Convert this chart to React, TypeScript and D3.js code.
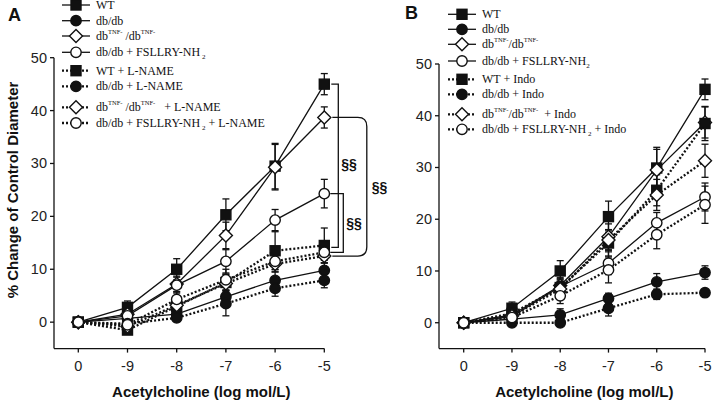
import React from 'react';
import * as d3 from 'd3';

// ---------- data ----------
const doses = ['0', '-9', '-8', '-7', '-6', '-5'];
const yTicks = [0, 10, 20, 30, 40, 50];

// Panel A
const wtA = [0, 2.8, 10, 20.3, 29.5, 45];
const wtAErr = [0, 1.2, 2, 3, 4.3, 2];
const dbA = [0, 0.7, 1.5, 4.8, 7.9, 9.8];
const dbAErr = [0, 0.6, 1, 1.3, 1.6, 1.4];
const tnfA = [0, 1.5, 7.2, 16.4, 29.3, 38.7];
const tnfAErr = [0, 1, 1.5, 2.5, 4.3, 2];
const fsA = [0, 1.2, 7, 11.5, 19.3, 24.3];
const fsAErr = [0, 1, 1.5, 2.2, 2, 2.7];
const wtLA = [0, -1.5, 3, 7.5, 13.5, 14.5];
const wtLAErr = [0, 0.8, 1, 1.5, 3.6, 3.3];
const dbLA = [0, -0.3, 0.8, 3.5, 6.4, 7.9];
const dbLAErr = [0, 0.5, 0.7, 2.3, 1.5, 1.4];
const tnfLA = [0, -0.8, 3.2, 7.3, 11, 12.5];
const tnfLAErr = [0, 1, 1.2, 1.8, 1.5, 1.3];
const fsLA = [0, -0.5, 4.3, 8, 11.5, 13.2];
const fsLAErr = [0, 1, 1.5, 2, 1.5, 1.5];

// Panel B
const wtB = [0, 2.8, 10, 20.5, 29.9, 45.1];
const wtBErr = [0, 1.2, 2, 3, 4, 2];
const dbB = [0, 0.7, 1.5, 4.7, 7.9, 9.7];
const dbBErr = [0, 0.5, 1.2, 1, 1.6, 1.3];
const tnfB = [0, 1.5, 7.2, 16.6, 29.5, 38.7];
const tnfBErr = [0, 1, 1.5, 2.5, 4, 3];
const fsB = [0, 1.2, 7, 11.5, 19.3, 24.3];
const fsBErr = [0, 1, 1.5, 2.2, 2, 2.7];
const wtIB = [0, 1.8, 6.8, 15.4, 25.6, 38.5];
const wtIBErr = [0, 1, 1.5, 2.5, 3, 3.3];
const dbIB = [0, 0, 0, 2.8, 5.5, 5.8];
const dbIBErr = [0, 0.5, 0.5, 1.5, 1, 0.6];
const tnfIB = [0, 1.3, 6.5, 16, 24.7, 31.3];
const tnfIBErr = [0, 1, 1.5, 2, 3, 3.2];
const fsIB = [0, 1, 5.2, 10.2, 17, 22.8];
const fsIBErr = [0, 1, 1.5, 2.5, 2.7, 3.6];

type Seg = { t: string; sup?: boolean; sub?: boolean };
const lblWT: Seg[] = [{ t: 'WT' }];
const lblDB: Seg[] = [{ t: 'db/db' }];
const lblTNF: Seg[] = [{ t: 'db' }, { t: 'TNF-', sup: true }, { t: ' /db' }, { t: 'TNF-', sup: true }];
const lblTNFB: Seg[] = [{ t: 'db' }, { t: 'TNF-', sup: true }, { t: '/db' }, { t: 'TNF-', sup: true }];
const lblFS: Seg[] = [{ t: 'db/db + FSLLRY-NH' }, { t: ' 2', sub: true }];
const lblFSB: Seg[] = [{ t: 'db/db + FSLLRY-NH' }, { t: '2', sub: true }];
const lblWTL: Seg[] = [{ t: 'WT + L-NAME' }];
const lblDBL: Seg[] = [{ t: 'db/db + L-NAME' }];
const lblTNFL: Seg[] = [{ t: 'db' }, { t: 'TNF-', sup: true }, { t: ' /db' }, { t: 'TNF-', sup: true }, { t: '   + L-NAME' }];
const lblFSL: Seg[] = [{ t: 'db/db + FSLLRY-NH' }, { t: ' 2', sub: true }, { t: ' + L-NAME' }];
const lblWTI: Seg[] = [{ t: 'WT + Indo' }];
const lblDBI: Seg[] = [{ t: 'db/db + Indo' }];
const lblTNFI: Seg[] = [{ t: 'db' }, { t: 'TNF-', sup: true }, { t: '/db' }, { t: 'TNF-', sup: true }, { t: '  + Indo' }];
const lblFSI: Seg[] = [{ t: 'db/db + FSLLRY-NH' }, { t: ' 2', sub: true }, { t: ' + Indo' }];

type Series = {
  values: number[];
  err: number[];
  shape: 'square' | 'circle' | 'diamond';
  filled: boolean;
  dotted: boolean;
  label: Seg[];
};

const seriesA: Series[] = [
  { values: wtA, err: wtAErr, shape: 'square', filled: true, dotted: false, label: lblWT },
  { values: dbA, err: dbAErr, shape: 'circle', filled: true, dotted: false, label: lblDB },
  { values: tnfA, err: tnfAErr, shape: 'diamond', filled: false, dotted: false, label: lblTNF },
  { values: fsA, err: fsAErr, shape: 'circle', filled: false, dotted: false, label: lblFS },
  { values: wtLA, err: wtLAErr, shape: 'square', filled: true, dotted: true, label: lblWTL },
  { values: dbLA, err: dbLAErr, shape: 'circle', filled: true, dotted: true, label: lblDBL },
  { values: tnfLA, err: tnfLAErr, shape: 'diamond', filled: false, dotted: true, label: lblTNFL },
  { values: fsLA, err: fsLAErr, shape: 'circle', filled: false, dotted: true, label: lblFSL },
];

const seriesB: Series[] = [
  { values: wtB, err: wtBErr, shape: 'square', filled: true, dotted: false, label: lblWT },
  { values: dbB, err: dbBErr, shape: 'circle', filled: true, dotted: false, label: lblDB },
  { values: tnfB, err: tnfBErr, shape: 'diamond', filled: false, dotted: false, label: lblTNFB },
  { values: fsB, err: fsBErr, shape: 'circle', filled: false, dotted: false, label: lblFSB },
  { values: wtIB, err: wtIBErr, shape: 'square', filled: true, dotted: true, label: lblWTI },
  { values: dbIB, err: dbIBErr, shape: 'circle', filled: true, dotted: true, label: lblDBI },
  { values: tnfIB, err: tnfIBErr, shape: 'diamond', filled: false, dotted: true, label: lblTNFI },
  { values: fsIB, err: fsIBErr, shape: 'circle', filled: false, dotted: true, label: lblFSI },
];

// ---------- drawing ----------
const SANS = '"Liberation Sans", Arial, Helvetica, sans-serif';
const SERIF = '"Liberation Serif", "Times New Roman", serif';

function Marker({ shape, filled, cx, cy }: { shape: string; filled: boolean; cx: number; cy: number }) {
  const fill = filled ? '#111' : '#fff';
  const sw = 1.4;
  if (shape === 'square') {
    const s = 10;
    return <rect x={cx - s / 2} y={cy - s / 2} width={s} height={s} fill={fill} stroke="#111" strokeWidth={sw} />;
  }
  if (shape === 'circle') {
    return <circle cx={cx} cy={cy} r={5.2} fill={fill} stroke="#111" strokeWidth={sw} />;
  }
  const h = 6.5;
  return (
    <path
      d={`M${cx},${cy - h}L${cx + h},${cy}L${cx},${cy + h}L${cx - h},${cy}Z`}
      fill={fill}
      stroke="#111"
      strokeWidth={sw}
    />
  );
}

function Label({ segs, x, y }: { segs: Seg[]; x: number; y: number }) {
  return (
    <text x={x} y={y} fontFamily={SERIF} fontSize={12} fill="#111" style={{ whiteSpace: 'pre' }}>
      {segs.map((s, i) => {
        if (s.sup)
          return (
            <tspan key={i} fontSize={6.5} baselineShift="6">
              {s.t}
            </tspan>
          );
        if (s.sub)
          return (
            <tspan key={i} fontSize={7} baselineShift="-3">
              {s.t}
            </tspan>
          );
        return <tspan key={i}>{s.t}</tspan>;
      })}
    </text>
  );
}

type PanelProps = {
  series: Series[];
  axisX: number;
  xRange: [number, number];
  yRange: [number, number];
  legendX: number;
  legendRows: number[];
  yTitle: boolean;
  brackets: boolean;
};

function Panel({ series, axisX, xRange, yRange, legendX, legendRows, yTitle, brackets }: PanelProps) {
  const x = d3.scalePoint<string>().domain(doses).range(xRange);
  const y = d3.scaleLinear().domain([-5, 50]).range(yRange);
  const line = d3
    .line<number>()
    .x((_, i) => x(doses[i]) as number)
    .y((v) => y(v));
  const yBottom = y(-5);
  const xEnd = x(doses[doses.length - 1]) as number;
  const xStart = x(doses[0]) as number;
  const capW = 3.5;

  let bracketEls: React.ReactNode = null;
  if (brackets) {
    const last = doses.length - 1;
    const wt = y(series[0].values[last]);
    const wtL = y(series[4].values[last]) + 2;
    const fs = y(series[3].values[last]);
    const fsL = y(series[7].values[last]);
    const tnf = y(series[2].values[last]);
    const tnfL = y(series[6].values[last]);
    const v1 = xEnd + 14;
    const v2 = xEnd + 19;
    const v3 = xEnd + 42.5;
    const r = 9;
    bracketEls = (
      <g fill="none" stroke="#111" strokeWidth={1.3}>
        <path d={`M${xEnd + 7},${wt}H${v1}V${wtL}H${xEnd + 7}`} />
        <path d={`M${xEnd + 6},${fs}H${v2}V${fsL}H${xEnd + 6}`} />
        <path
          d={`M${xEnd + 8},${tnf}H${v3 - r}Q${v3},${tnf} ${v3},${tnf + r}V${tnfL - r}Q${v3},${tnfL} ${v3 - r},${tnfL}H${xEnd + 8}`}
        />
        <g stroke="none" fill="#111" fontFamily={SANS} fontWeight="bold" fontSize={14}>
          <text x={v1 + 3} y={(wt + wtL) / 2 - 2} dominantBaseline="central">§§</text>
          <text x={v2 + 3} y={(fs + fsL) / 2} dominantBaseline="central">§§</text>
          <text x={v3 + 5} y={(tnf + tnfL) / 2} dominantBaseline="central">§§</text>
        </g>
      </g>
    );
  }

  return (
    <g>
      {/* axes */}
      <g stroke="#111" strokeWidth={1.3} fill="none">
        <line x1={axisX} x2={axisX} y1={y(50)} y2={yBottom} />
        <line x1={axisX} x2={xEnd} y1={yBottom} y2={yBottom} />
        {yTicks.map((t) => (
          <line key={t} x1={axisX - 4} x2={axisX} y1={y(t)} y2={y(t)} />
        ))}
        {doses.map((d) => (
          <line key={d} x1={x(d)} x2={x(d)} y1={yBottom} y2={yBottom + 4} />
        ))}
      </g>
      <g fontFamily={SANS} fontSize={14.5} fill="#222">
        {yTicks.map((t) => (
          <text key={t} x={axisX - 7} y={y(t)} textAnchor="end" dominantBaseline="central">
            {t}
          </text>
        ))}
        {doses.map((d) => (
          <text key={d} x={x(d)} y={366} textAnchor="middle" dominantBaseline="central">
            {d}
          </text>
        ))}
      </g>
      <text
        x={(xStart + xEnd) / 2}
        y={391}
        textAnchor="middle"
        dominantBaseline="central"
        fontFamily={SANS}
        fontWeight="bold"
        fontSize={15}
        fill="#111"
      >
        Acetylcholine (log mol/L)
      </text>
      {yTitle && (
        <text
          transform={`translate(12,190) rotate(-90)`}
          textAnchor="middle"
          dominantBaseline="central"
          fontFamily={SANS}
          fontWeight="bold"
          fontSize={15}
          fill="#111"
        >
          % Change of Control Diameter
        </text>
      )}
      {/* lines */}
      {series.map((s, i) => (
        <path
          key={'l' + i}
          d={line(s.values) || ''}
          fill="none"
          stroke="#111"
          strokeWidth={s.dotted ? 2.3 : 1.3}
          strokeDasharray={s.dotted ? '2 2' : undefined}
        />
      ))}
      {/* error bars */}
      <g stroke="#111" strokeWidth={1.3}>
        {series.map((s, i) =>
          s.values.map((v, j) => {
            if (!s.err[j]) return null;
            const cx = x(doses[j]) as number;
            const y1 = y(v + s.err[j]);
            const y2 = y(v - s.err[j]);
            return (
              <g key={'e' + i + '-' + j}>
                <line x1={cx} x2={cx} y1={y1} y2={y2} />
                <line x1={cx - capW} x2={cx + capW} y1={y1} y2={y1} />
                <line x1={cx - capW} x2={cx + capW} y1={y2} y2={y2} />
              </g>
            );
          })
        )}
      </g>
      {/* markers */}
      {series.map((s, i) =>
        s.values.map((v, j) => (
          <Marker key={'m' + i + '-' + j} shape={s.shape} filled={s.filled} cx={x(doses[j]) as number} cy={y(v)} />
        ))
      )}
      {bracketEls}
      {/* legend */}
      {series.map((s, i) => {
        const ly = legendRows[i];
        return (
          <g key={'lg' + i}>
            <line
              x1={legendX}
              x2={legendX + 28}
              y1={ly}
              y2={ly}
              stroke="#111"
              strokeWidth={s.dotted ? 2.3 : 1.3}
              strokeDasharray={s.dotted ? '2 2' : undefined}
            />
            <Marker shape={s.shape} filled={s.filled} cx={legendX + 14} cy={ly} />
            <Label segs={s.label} x={legendX + 34} y={ly + 4} />
          </g>
        );
      })}
    </g>
  );
}

export default function App() {
  return (
    <svg
      width={713}
      height={400}
      viewBox="0 0 713 400"
      style={{ position: 'absolute', left: 0, top: 0, background: '#fff' }}
    >
      <rect x={0} y={0} width={713} height={400} fill="#fff" />
      <text x={8} y={21} fontFamily={SANS} fontWeight="bold" fontSize={18} fill="#111">
        A
      </text>
      <text x={405} y={18.5} fontFamily={SANS} fontWeight="bold" fontSize={18} fill="#111">
        B
      </text>
      <Panel
        series={seriesA}
        axisX={54}
        xRange={[78.3, 324.3]}
        yRange={[348.6, 57.7]}
        legendX={62}
        legendRows={[5, 20.7, 36, 52.3, 70.7, 86.3, 107.3, 123]}
        yTitle={true}
        brackets={true}
      />
      <Panel
        series={seriesB}
        axisX={439}
        xRange={[463.7, 705]}
        yRange={[348.6, 64]}
        legendX={448}
        legendRows={[14.3, 29.3, 44.3, 61, 79.3, 94.3, 114.3, 129.3]}
        yTitle={false}
        brackets={false}
      />
    </svg>
  );
}
